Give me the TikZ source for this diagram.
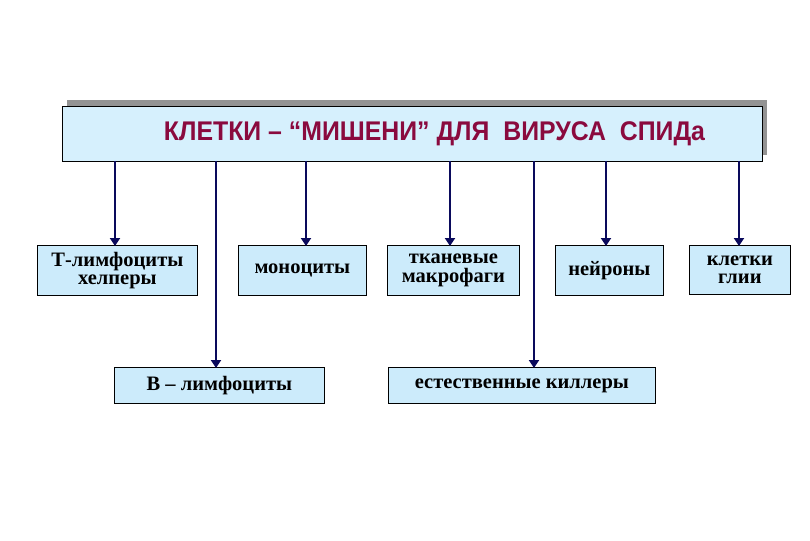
\documentclass[tikz,border=0pt]{standalone}
\usepackage{fontspec}
\setmainfont{Liberation Serif}
\newfontfamily\titlefont{Liberation Sans}
\usetikzlibrary{arrows.meta}
\definecolor{boxfill}{HTML}{CCEBFB}
\definecolor{titlefill}{HTML}{D6F0FD}
\definecolor{titlecol}{HTML}{8A0A3E}
\definecolor{arrcol}{HTML}{0A0A5C}
\tikzset{
  cellbox/.style={draw=black, line width=0.8pt, fill=boxfill, inner sep=0pt,
    font=\fontsize{20.5}{18.5}\selectfont\bfseries, align=center},
  conn/.style={draw=arrcol, line width=2.6pt, -{Triangle[length=8pt,width=10pt]}, shorten >=-1pt},
}
\begin{document}
\begin{tikzpicture}[x=1pt,y=-1pt]
\useasboundingbox (0,0) rectangle (810,540);
% title shadow and box
\fill[gray!85] (67,100) rectangle (767,155);
\node[draw=black, line width=0.8pt, fill=titlefill, minimum width=700pt, minimum height=55pt, anchor=north west, inner sep=0pt] (title) at (62,106) {};
\node[font=\titlefont\bfseries\fontsize{27}{28}\selectfont, text=titlecol, anchor=center, xscale=0.92] (ttext) at (434.5,134) {КЛЕТКИ – “МИШЕНИ” ДЛЯ \ ВИРУСА \ СПИДа};
% boxes
\node[cellbox, minimum width=160pt, minimum height=50pt, anchor=north west] (t) at (37,245) {Т-лимфоциты\\хелперы};
\node[cellbox, minimum width=128pt, minimum height=50pt, anchor=north west] (m) at (238,245) {моноциты};
\node[cellbox, minimum width=132pt, minimum height=50pt, anchor=north west] (tk) at (387,245) {тканевые\\макрофаги};
\node[cellbox, minimum width=108pt, minimum height=50pt, anchor=north west] (n) at (555,245) {нейроны};
\node[cellbox, minimum width=101pt, minimum height=49pt, anchor=north west] (g) at (689,245) {клетки\\глии};
\node[cellbox, minimum width=210pt, minimum height=36pt, anchor=north west] (b) at (114,367) {В – лимфоциты};
\node[cellbox, minimum width=267pt, minimum height=36pt, anchor=north west] (k) at (388,367) {естественные киллеры};
% connectors
\coordinate (s1) at (115,161);
\coordinate (s2) at (216,161);
\coordinate (s3) at (306,161);
\coordinate (s4) at (450,161);
\coordinate (s5) at (534,161);
\coordinate (s6) at (606,161);
\coordinate (s7) at (739,161);
\draw[conn] (s1) -- (s1 |- t.north);
\draw[conn] (s2) -- (s2 |- b.north);
\draw[conn] (s3) -- (s3 |- m.north);
\draw[conn] (s4) -- (s4 |- tk.north);
\draw[conn] (s5) -- (s5 |- k.north);
\draw[conn] (s6) -- (s6 |- n.north);
\draw[conn] (s7) -- (s7 |- g.north);
\end{tikzpicture}
\end{document}
